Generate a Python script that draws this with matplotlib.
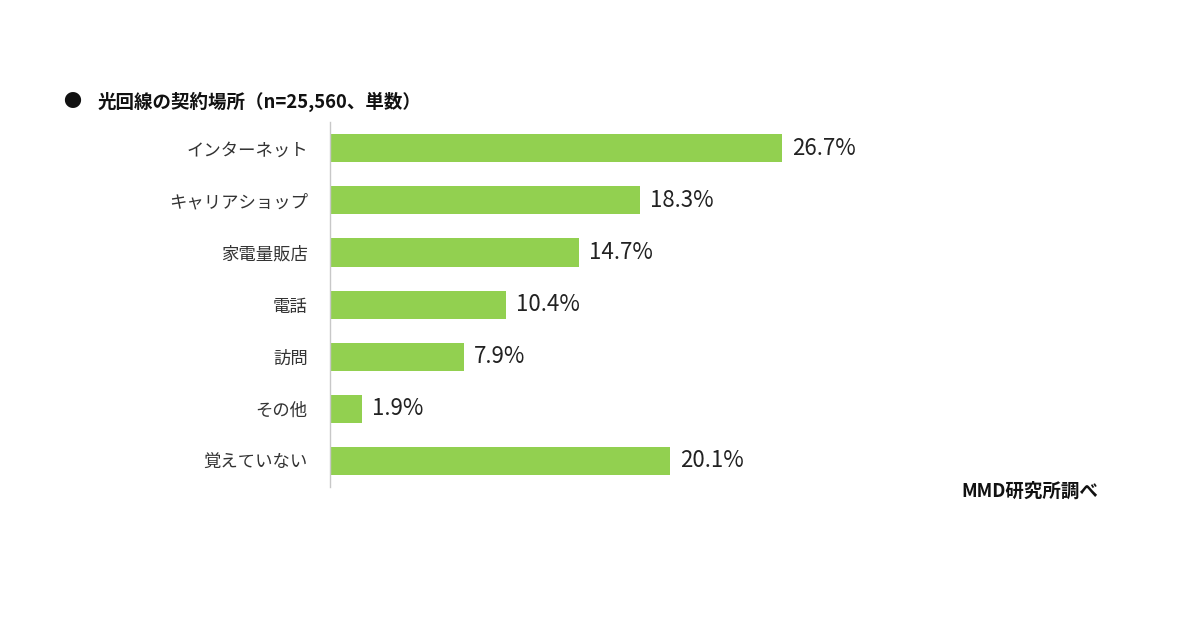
import matplotlib.pyplot as plt

plt.rcParams['font.family'] = ['Noto Sans CJK JP', 'DejaVu Sans']

# データ
categories = ['インターネット', 'キャリアショップ', '家電量販店', '電話', '訪問', 'その他', '覚えていない']
values = [26.7, 18.3, 14.7, 10.4, 7.9, 1.9, 20.1]

fig = plt.figure(figsize=(12, 6.3), dpi=100)
ax = fig.add_axes([0.275, 0.227, 0.4233, 0.579])

y = list(range(len(categories)))
ax.barh(y, values, height=0.54, color='#92D050')
ax.set_ylim(len(categories) - 0.5, -0.5)
ax.set_xlim(0, 30)

for yi, v in zip(y, values):
    ax.text(v + 0.6, yi, f'{v}%', va='center', ha='left', fontsize=16, color='#222222')

ax.set_yticks(y)
ax.set_yticklabels(categories, fontsize=12.5, color='#333333')
ax.tick_params(axis='y', length=0, pad=16)
ax.set_xticks([])
for s in ['top', 'right', 'bottom']:
    ax.spines[s].set_visible(False)
ax.spines['left'].set_color('#c8c8c8')
ax.spines['left'].set_linewidth(1)

fig.text(0.06, 0.838, '●', fontsize=13, va='center', ha='center', color='#111111')
fig.text(0.081, 0.838, '光回線の契約場所（n=25,560、単数）', fontsize=13.3, fontweight='bold',
         va='center', ha='left', color='#111111')
fig.text(0.915, 0.22, 'MMD研究所調べ', fontsize=13.3, fontweight='bold',
         va='center', ha='right', color='#111111')

fig.savefig('out.png', dpi=100)
